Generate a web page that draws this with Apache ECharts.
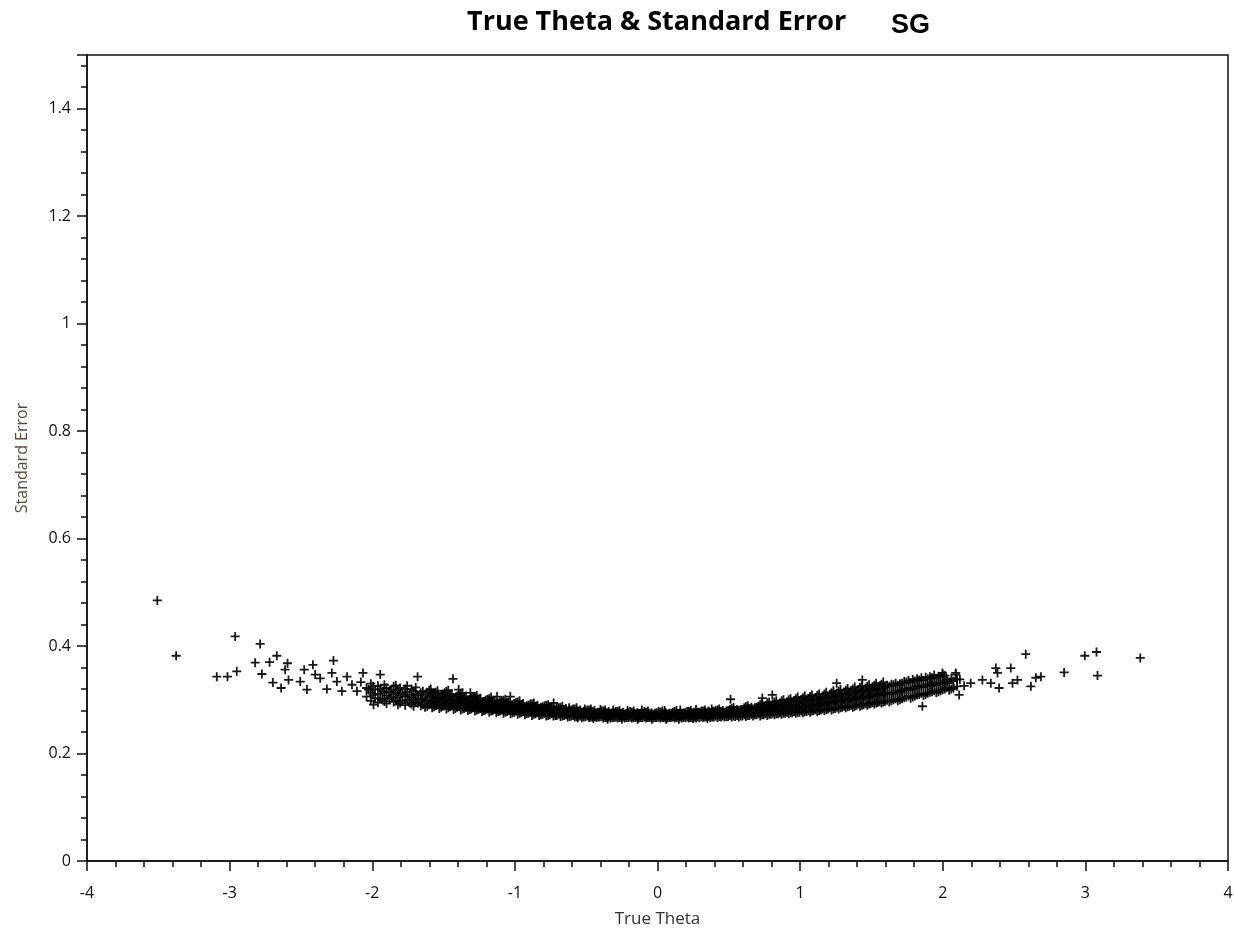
<!DOCTYPE html>
<html>
<head>
<meta charset="utf-8">
<script src="https://cdn.jsdelivr.net/npm/echarts@6/dist/echarts.min.js"></script>
<style>
html,body{margin:0;padding:0;background:#fff;overflow:hidden;}
#chart{width:1234px;height:929px;}
</style>
</head>
<body>
<div id="chart"></div>
<script>
const titleMain = "True Theta & Standard Error";
const titleTag = "SG";
const xAxisName = "True Theta";
const yAxisName = "Standard Error";
const xTicks = [-4, -3, -2, -1, 0, 1, 2, 3, 4];
const yTicks = [0, 0.2, 0.4, 0.6, 0.8, 1, 1.2, 1.4];

// Isolated points at the tails: [theta, standard error]
const leftTail = [
  [-3.507, 0.485], [-3.375, 0.382], [-3.09, 0.343], [-3.015, 0.343], [-2.95, 0.353],
  [-2.961, 0.418], [-2.786, 0.404], [-2.821, 0.369], [-2.774, 0.348], [-2.72, 0.370],
  [-2.669, 0.382], [-2.697, 0.332], [-2.639, 0.322], [-2.594, 0.368], [-2.611, 0.356],
  [-2.587, 0.337], [-2.505, 0.334], [-2.477, 0.356], [-2.458, 0.319], [-2.416, 0.365],
  [-2.40, 0.347], [-2.365, 0.340], [-2.318, 0.320], [-2.272, 0.373], [-2.283, 0.350],
  [-2.248, 0.334], [-2.213, 0.316], [-2.177, 0.343], [-2.142, 0.328], [-2.107, 0.316],
  [-2.065, 0.350], [-2.026, 0.319], [-1.991, 0.291], [-1.944, 0.347], [-2.08, 0.333],
  [-1.682, 0.343], [-1.434, 0.339], [-1.394, 0.319], [-1.312, 0.313], [-1.032, 0.306],
  [-1.125, 0.306], [-0.728, 0.294]
];
const rightTail = [
  [0.512, 0.301], [0.735, 0.303], [0.805, 0.309], [1.256, 0.331], [1.436, 0.337],
  [1.857, 0.288], [1.998, 0.350], [2.091, 0.347], [2.091, 0.350], [2.115, 0.309],
  [2.196, 0.331], [2.278, 0.337], [2.337, 0.331], [2.372, 0.359], [2.384, 0.350],
  [2.395, 0.322], [2.477, 0.359], [2.489, 0.331], [2.524, 0.337], [2.582, 0.385],
  [2.618, 0.325], [2.653, 0.341], [2.688, 0.343], [2.851, 0.351], [2.996, 0.382],
  [3.078, 0.389], [3.085, 0.345], [3.385, 0.378], [2.12, 0.338], [2.15, 0.326]
];
// Scattered crosses along the top and bottom edges of the central band
const bandEdges = [
  [-0.62, 0.285], [-0.51, 0.283], [-0.40, 0.282], [-0.31, 0.281], [-0.21, 0.280],
  [-0.11, 0.281], [0.05, 0.280], [0.16, 0.281], [0.27, 0.282], [0.38, 0.283],
  [-0.45, 0.265], [-0.35, 0.264], [-0.25, 0.264], [-0.14, 0.264], [-0.04, 0.264],
  [0.06, 0.264], [0.15, 0.264], [0.25, 0.265], [0.35, 0.265], [-0.56, 0.266]
];
// Dense band, first pass: [theta, se, se, ...]
const bandRows = [
  [-2.04, 0.306, 0.322], [-2.01, 0.298, 0.314, 0.330], [-1.98, 0.303, 0.319],
  [-1.96, 0.295, 0.311, 0.326], [-1.93, 0.300, 0.316], [-1.90, 0.293, 0.308, 0.322],
  [-1.88, 0.302, 0.315], [-1.85, 0.296, 0.310, 0.325], [-1.82, 0.291, 0.304, 0.318],
  [-1.79, 0.298, 0.312], [-1.77, 0.290, 0.306, 0.320], [-1.74, 0.295, 0.309],
  [-1.71, 0.288, 0.301, 0.316], [-1.68, 0.294, 0.308], [-1.66, 0.289, 0.300, 0.313],
  [-1.63, 0.286, 0.297, 0.310], [-1.60, 0.292, 0.305, 0.318],
  [-1.58, 0.285, 0.296, 0.309], [-1.555, 0.289, 0.301, 0.314], [-1.53, 0.284, 0.293, 0.305],
  [-1.505, 0.288, 0.299, 0.311], [-1.48, 0.283, 0.292, 0.303, 0.316], [-1.455, 0.287, 0.297, 0.308],
  [-1.43, 0.282, 0.291, 0.302], [-1.405, 0.286, 0.295, 0.307], [-1.38, 0.281, 0.290, 0.300, 0.311],
  [-1.355, 0.284, 0.294, 0.304], [-1.33, 0.280, 0.288, 0.298], [-1.305, 0.283, 0.292, 0.303],
  [-1.28, 0.279, 0.287, 0.296, 0.306], [-1.255, 0.282, 0.291, 0.300], [-1.23, 0.278, 0.286, 0.295],
  [-1.205, 0.281, 0.289, 0.299], [-1.18, 0.277, 0.285, 0.293, 0.302], [-1.155, 0.280, 0.288, 0.297],
  [-1.13, 0.276, 0.283, 0.292], [-1.105, 0.279, 0.287, 0.296], [-1.08, 0.275, 0.282, 0.290, 0.299],
  [-1.055, 0.278, 0.285, 0.294], [-1.03, 0.274, 0.281, 0.289], [-1.005, 0.277, 0.284, 0.293],
  [-0.98, 0.273, 0.280, 0.288, 0.296], [-0.955, 0.276, 0.283, 0.291], [-0.93, 0.272, 0.279, 0.287],
  [-0.905, 0.275, 0.282, 0.290], [-0.88, 0.271, 0.278, 0.285, 0.292], [-0.855, 0.274, 0.281, 0.288],
  [-0.83, 0.271, 0.277, 0.284], [-0.805, 0.273, 0.280, 0.287], [-0.78, 0.270, 0.276, 0.283, 0.290],
  [-0.755, 0.272, 0.279, 0.285], [-0.73, 0.270, 0.275, 0.282], [-0.705, 0.271, 0.277, 0.284],
  [-0.68, 0.269, 0.274, 0.280, 0.286], [-0.655, 0.271, 0.276, 0.282], [-0.63, 0.268, 0.273, 0.279],
  [-0.605, 0.270, 0.275, 0.281], [-0.58, 0.268, 0.272, 0.277, 0.283], [-0.555, 0.269, 0.274, 0.279],
  [-0.53, 0.267, 0.272, 0.277], [-0.505, 0.269, 0.273, 0.279], [-0.48, 0.267, 0.271, 0.276, 0.281],
  [-0.455, 0.268, 0.273, 0.278], [-0.43, 0.267, 0.271, 0.275], [-0.405, 0.268, 0.272, 0.277],
  [-0.38, 0.266, 0.270, 0.274, 0.279], [-0.355, 0.267, 0.272, 0.276], [-0.33, 0.266, 0.270, 0.274],
  [-0.305, 0.267, 0.271, 0.276], [-0.28, 0.266, 0.269, 0.273, 0.278], [-0.255, 0.267, 0.271, 0.275],
  [-0.23, 0.266, 0.270, 0.273], [-0.205, 0.267, 0.271, 0.276], [-0.18, 0.266, 0.269, 0.273, 0.277],
  [-0.155, 0.267, 0.270, 0.274], [-0.13, 0.266, 0.270, 0.273], [-0.105, 0.267, 0.271, 0.275],
  [-0.08, 0.266, 0.269, 0.273, 0.277], [-0.055, 0.267, 0.270, 0.274], [-0.03, 0.266, 0.270, 0.273],
  [-0.005, 0.267, 0.271, 0.276], [0.02, 0.266, 0.269, 0.273, 0.277], [0.045, 0.267, 0.270, 0.274],
  [0.07, 0.266, 0.270, 0.273], [0.095, 0.267, 0.271, 0.275], [0.12, 0.266, 0.269, 0.273, 0.278],
  [0.145, 0.267, 0.271, 0.274], [0.17, 0.266, 0.270, 0.274], [0.195, 0.267, 0.271, 0.276],
  [0.22, 0.266, 0.270, 0.274, 0.278], [0.245, 0.267, 0.271, 0.275], [0.27, 0.266, 0.270, 0.275],
  [0.295, 0.267, 0.272, 0.277], [0.32, 0.267, 0.271, 0.275, 0.279], [0.345, 0.268, 0.272, 0.276],
  [0.37, 0.267, 0.271, 0.276], [0.395, 0.268, 0.273, 0.278], [0.42, 0.267, 0.272, 0.277, 0.281],
  [0.445, 0.268, 0.273, 0.278], [0.47, 0.268, 0.272, 0.277], [0.495, 0.269, 0.274, 0.280],
  [0.52, 0.268, 0.273, 0.279, 0.284], [0.545, 0.269, 0.275, 0.280], [0.57, 0.268, 0.274, 0.280],
  [0.595, 0.270, 0.276, 0.282], [0.62, 0.269, 0.275, 0.281, 0.287], [0.645, 0.271, 0.277, 0.284],
  [0.67, 0.270, 0.276, 0.283], [0.695, 0.272, 0.279, 0.286], [0.72, 0.270, 0.277, 0.284, 0.291],
  [0.745, 0.272, 0.280, 0.288], [0.77, 0.271, 0.278, 0.286, 0.294], [0.795, 0.273, 0.281, 0.290],
  [0.82, 0.272, 0.279, 0.287, 0.296], [0.845, 0.274, 0.283, 0.292], [0.87, 0.273, 0.281, 0.289, 0.298],
  [0.895, 0.275, 0.284, 0.294], [0.92, 0.274, 0.282, 0.291, 0.300], [0.945, 0.276, 0.286, 0.296],
  [0.97, 0.275, 0.284, 0.293, 0.302], [0.995, 0.277, 0.287, 0.298], [1.02, 0.276, 0.285, 0.295, 0.304],
  [1.045, 0.278, 0.289, 0.299], [1.07, 0.277, 0.287, 0.297, 0.306], [1.095, 0.280, 0.291, 0.301],
  [1.12, 0.278, 0.289, 0.299, 0.308], [1.145, 0.281, 0.293, 0.303], [1.17, 0.280, 0.291, 0.301, 0.311],
  [1.195, 0.283, 0.295, 0.305], [1.22, 0.281, 0.293, 0.304, 0.313], [1.245, 0.284, 0.297, 0.307],
  [1.27, 0.283, 0.295, 0.306, 0.316], [1.295, 0.286, 0.299, 0.310], [1.32, 0.285, 0.297, 0.308, 0.318],
  [1.345, 0.288, 0.301, 0.312], [1.37, 0.286, 0.299, 0.310, 0.320], [1.395, 0.290, 0.303, 0.315],
  [1.42, 0.288, 0.301, 0.313, 0.323], [1.445, 0.291, 0.305, 0.317], [1.47, 0.290, 0.303, 0.315, 0.325],
  [1.495, 0.293, 0.307, 0.319], [1.52, 0.292, 0.306, 0.318, 0.327], [1.545, 0.295, 0.309, 0.321],
  [1.57, 0.294, 0.308, 0.320, 0.329], [1.595, 0.297, 0.311, 0.323],
  [1.625, 0.296, 0.310, 0.325], [1.655, 0.300, 0.314, 0.328], [1.685, 0.298, 0.312, 0.327],
  [1.715, 0.302, 0.316, 0.331], [1.745, 0.305, 0.319, 0.333], [1.775, 0.303, 0.318, 0.332],
  [1.805, 0.307, 0.321, 0.335], [1.835, 0.310, 0.324, 0.337], [1.865, 0.308, 0.323, 0.336],
  [1.895, 0.312, 0.326, 0.339], [1.925, 0.315, 0.328, 0.341], [1.955, 0.313, 0.327, 0.340],
  [1.985, 0.317, 0.330, 0.343], [2.015, 0.320, 0.333, 0.345], [2.045, 0.318, 0.331],
  [2.075, 0.322, 0.335]
];
// Dense band, second pass (points between the first-pass columns)
const bandRows2 = [
  [-1.995, 0.309, 0.325], [-1.945, 0.302, 0.320], [-1.915, 0.297, 0.313, 0.328],
  [-1.865, 0.305, 0.319], [-1.835, 0.299, 0.314, 0.327], [-1.805, 0.294, 0.309, 0.322],
  [-1.755, 0.300, 0.315, 0.326], [-1.725, 0.292, 0.305, 0.320], [-1.695, 0.297, 0.311, 0.323],
  [-1.645, 0.291, 0.303, 0.316], [-1.615, 0.288, 0.300, 0.314], [-1.59, 0.294, 0.307, 0.320],
  [-1.567, 0.287, 0.298, 0.311], [-1.542, 0.291, 0.304, 0.317], [-1.517, 0.286, 0.296, 0.309],
  [-1.492, 0.290, 0.301, 0.313], [-1.467, 0.285, 0.295, 0.306, 0.318], [-1.442, 0.289, 0.300, 0.311],
  [-1.417, 0.284, 0.293, 0.305], [-1.392, 0.288, 0.298, 0.309], [-1.367, 0.283, 0.292, 0.302, 0.313],
  [-1.342, 0.286, 0.296, 0.307], [-1.317, 0.282, 0.290, 0.300], [-1.292, 0.285, 0.294, 0.305],
  [-1.267, 0.281, 0.289, 0.298, 0.308], [-1.242, 0.284, 0.293, 0.303], [-1.217, 0.280, 0.288, 0.297],
  [-1.192, 0.283, 0.291, 0.301], [-1.167, 0.279, 0.287, 0.295, 0.305], [-1.142, 0.282, 0.290, 0.299],
  [-1.117, 0.278, 0.285, 0.294], [-1.092, 0.281, 0.289, 0.298], [-1.067, 0.277, 0.284, 0.292, 0.301],
  [-1.042, 0.280, 0.287, 0.296], [-1.017, 0.276, 0.283, 0.291], [-0.992, 0.279, 0.286, 0.295],
  [-0.967, 0.275, 0.282, 0.290, 0.298], [-0.942, 0.278, 0.285, 0.293], [-0.917, 0.274, 0.281, 0.289],
  [-0.892, 0.277, 0.284, 0.292], [-0.867, 0.273, 0.280, 0.287, 0.294], [-0.842, 0.276, 0.283, 0.290],
  [-0.817, 0.272, 0.279, 0.286], [-0.792, 0.275, 0.282, 0.289], [-0.767, 0.271, 0.278, 0.285, 0.291],
  [-0.742, 0.274, 0.280, 0.287], [-0.717, 0.271, 0.277, 0.283], [-0.692, 0.273, 0.279, 0.285],
  [-0.667, 0.270, 0.276, 0.282, 0.288], [-0.642, 0.272, 0.278, 0.284], [-0.617, 0.269, 0.275, 0.281],
  [-0.592, 0.271, 0.277, 0.283], [-0.567, 0.269, 0.274, 0.279, 0.285], [-0.542, 0.270, 0.276, 0.281],
  [-0.517, 0.268, 0.273, 0.278], [-0.492, 0.270, 0.275, 0.281], [-0.467, 0.268, 0.273, 0.278, 0.283],
  [-0.442, 0.269, 0.274, 0.280], [-0.417, 0.268, 0.272, 0.277], [-0.392, 0.269, 0.274, 0.279],
  [-0.367, 0.267, 0.272, 0.277, 0.281], [-0.342, 0.268, 0.273, 0.278], [-0.317, 0.267, 0.272, 0.276],
  [-0.292, 0.268, 0.273, 0.278], [-0.267, 0.267, 0.271, 0.276, 0.280], [-0.242, 0.268, 0.272, 0.277],
  [-0.217, 0.267, 0.271, 0.275], [-0.192, 0.268, 0.272, 0.278], [-0.167, 0.267, 0.271, 0.275, 0.279],
  [-0.142, 0.268, 0.272, 0.276], [-0.117, 0.267, 0.271, 0.275], [-0.092, 0.268, 0.272, 0.278],
  [-0.067, 0.267, 0.271, 0.275, 0.279], [-0.042, 0.268, 0.272, 0.276], [-0.017, 0.267, 0.271, 0.275],
  [0.008, 0.268, 0.272, 0.278], [0.033, 0.267, 0.271, 0.275, 0.279], [0.058, 0.268, 0.272, 0.276],
  [0.083, 0.267, 0.271, 0.275], [0.108, 0.268, 0.272, 0.277], [0.133, 0.267, 0.271, 0.275, 0.280],
  [0.158, 0.268, 0.272, 0.276], [0.183, 0.267, 0.272, 0.276], [0.208, 0.268, 0.273, 0.278],
  [0.233, 0.267, 0.272, 0.276, 0.280], [0.258, 0.268, 0.273, 0.277], [0.283, 0.268, 0.272, 0.277],
  [0.308, 0.269, 0.274, 0.279], [0.333, 0.268, 0.273, 0.277, 0.281], [0.358, 0.269, 0.274, 0.279],
  [0.383, 0.268, 0.273, 0.278], [0.408, 0.270, 0.275, 0.280], [0.433, 0.269, 0.274, 0.279, 0.283],
  [0.458, 0.270, 0.275, 0.280], [0.483, 0.269, 0.274, 0.279], [0.508, 0.271, 0.276, 0.282],
  [0.533, 0.270, 0.275, 0.281, 0.286], [0.558, 0.271, 0.277, 0.282], [0.583, 0.270, 0.276, 0.282],
  [0.608, 0.272, 0.278, 0.285], [0.633, 0.271, 0.277, 0.283, 0.289], [0.658, 0.273, 0.279, 0.286],
  [0.683, 0.272, 0.278, 0.285], [0.708, 0.274, 0.281, 0.288], [0.733, 0.272, 0.279, 0.286, 0.293],
  [0.758, 0.274, 0.282, 0.290], [0.783, 0.273, 0.280, 0.288, 0.296], [0.808, 0.275, 0.283, 0.292],
  [0.833, 0.274, 0.281, 0.289, 0.298], [0.858, 0.276, 0.285, 0.294], [0.883, 0.275, 0.283, 0.291, 0.300],
  [0.908, 0.277, 0.286, 0.296], [0.933, 0.276, 0.284, 0.293, 0.302], [0.958, 0.278, 0.288, 0.298],
  [0.983, 0.277, 0.286, 0.295, 0.305], [1.008, 0.279, 0.289, 0.300], [1.033, 0.278, 0.287, 0.297, 0.307],
  [1.058, 0.280, 0.291, 0.302], [1.083, 0.279, 0.289, 0.299, 0.309], [1.108, 0.282, 0.293, 0.304],
  [1.133, 0.280, 0.291, 0.301, 0.311], [1.158, 0.283, 0.295, 0.306], [1.183, 0.282, 0.293, 0.304, 0.314],
  [1.208, 0.285, 0.297, 0.308], [1.233, 0.283, 0.296, 0.307, 0.317], [1.258, 0.286, 0.299, 0.310],
  [1.283, 0.285, 0.298, 0.309, 0.319], [1.308, 0.288, 0.301, 0.313], [1.333, 0.287, 0.300, 0.311, 0.321],
  [1.358, 0.290, 0.303, 0.315], [1.383, 0.288, 0.302, 0.314, 0.324], [1.408, 0.292, 0.306, 0.318],
  [1.433, 0.290, 0.304, 0.316, 0.326], [1.458, 0.293, 0.308, 0.320], [1.483, 0.292, 0.306, 0.318, 0.328],
  [1.508, 0.295, 0.310, 0.322], [1.533, 0.294, 0.309, 0.321, 0.331], [1.558, 0.297, 0.312, 0.324],
  [1.583, 0.296, 0.311, 0.323, 0.333], [1.61, 0.299, 0.314, 0.327], [1.64, 0.298, 0.313, 0.329],
  [1.67, 0.302, 0.317, 0.331], [1.70, 0.300, 0.315, 0.330], [1.73, 0.304, 0.320, 0.334],
  [1.76, 0.307, 0.322, 0.336], [1.79, 0.305, 0.321, 0.338], [1.82, 0.309, 0.325, 0.339],
  [1.85, 0.312, 0.327, 0.341], [1.88, 0.310, 0.326, 0.342], [1.91, 0.314, 0.329, 0.343],
  [1.94, 0.317, 0.332, 0.346], [1.97, 0.315, 0.330, 0.344], [2.00, 0.319, 0.334, 0.347],
  [2.03, 0.323, 0.337], [2.06, 0.320, 0.340], [2.10, 0.325, 0.338]
];

const bandPoints = [];
bandRows.concat(bandRows2).forEach(function (row) {
  for (let i = 1; i < row.length; i++) bandPoints.push([row[0], row[i]]);
});
const allPoints = leftTail.concat(bandPoints, bandEdges, rightTail);

const crossPath = 'path://M3.6,0H5.4V3.6H9V5.4H5.4V9H3.6V5.4H0V3.6H3.6Z';
const fontUI = '"Open Sans", "Noto Sans", sans-serif';

const chart = echarts.init(document.getElementById('chart'), null, {renderer: 'canvas', width: 1234, height: 929});
chart.setOption({
  backgroundColor: '#ffffff',
  animation: false,
  title: [
    {text: titleMain, left: 462, top: 4,
     textStyle: {fontFamily: fontUI, fontWeight: 'bold', fontSize: 27, color: '#000'}},
    {text: titleTag, left: 886, top: 7,
     textStyle: {fontFamily: '"Liberation Sans", Arial, sans-serif', fontWeight: 'bold', fontSize: 27, color: '#000'}}
  ],
  grid: {left: 87, right: 6, top: 55, bottom: 68, containLabel: false, outerBoundsMode: 'none',
    show: true, borderColor: '#111', borderWidth: 1.5, backgroundColor: 'transparent'},
  xAxis: [{
    type: 'value', min: xTicks[0], max: xTicks[xTicks.length - 1], interval: 1,
    name: xAxisName, nameLocation: 'middle', nameGap: 50,
    nameTextStyle: {fontFamily: fontUI, fontSize: 17, color: '#333'},
    axisLine: {show: true, onZero: false, lineStyle: {color: '#111', width: 1.5}},
    axisTick: {show: true, inside: false, length: 10, lineStyle: {color: '#111', width: 1.5}},
    minorTick: {show: true, splitNumber: 5, length: 6, lineStyle: {color: '#111', width: 1.5}},
    axisLabel: {margin: 24, fontFamily: fontUI, fontSize: 16, color: '#111'},
    splitLine: {show: false}
  }],
  yAxis: [{
    type: 'value', min: 0, max: 1.5, interval: 0.2,
    name: yAxisName, nameLocation: 'middle', nameGap: 57,
    nameTextStyle: {fontFamily: fontUI, fontSize: 16, color: '#5a4a3c'},
    axisLine: {show: true, onZero: false, lineStyle: {color: '#111', width: 1.5}},
    axisTick: {show: true, inside: false, length: 10, lineStyle: {color: '#111', width: 1.5}},
    axisLabel: {margin: 16, fontFamily: fontUI, fontSize: 16, color: '#111',
      formatter: function (v) { return yTicks.some(function (t) { return Math.abs(t - v) < 1e-9; }) ? String(Math.round(v * 10) / 10) : ''; }},
    splitLine: {show: false}
  }, {
    type: 'value', min: 0, max: 1.5, interval: 0.04, position: 'left', offset: 0,
    axisLine: {show: false, onZero: false},
    axisTick: {show: true, inside: false, length: 6, lineStyle: {color: '#111', width: 1.5}},
    axisLabel: {show: false},
    splitLine: {show: false}
  }],
  series: [{
    type: 'scatter',
    xAxisIndex: 0, yAxisIndex: 0,
    data: allPoints,
    symbol: crossPath,
    symbolSize: 9,
    itemStyle: {color: '#000', opacity: 0.9},
    silent: true
  }]
});
</script>
</body>
</html>
